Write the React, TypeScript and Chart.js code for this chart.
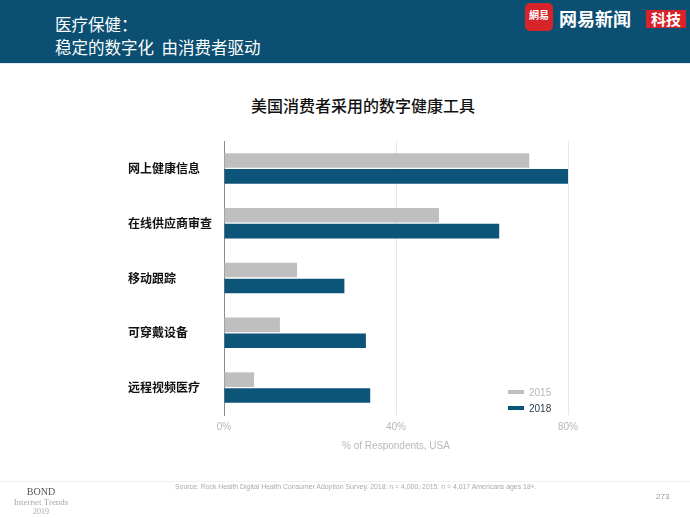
import React, { useEffect, useRef } from "react";
import { Chart, registerables } from "chart.js";

Chart.register(...registerables);

const categories = ["网上健康信息", "在线供应商审查", "移动跟踪", "可穿戴设备", "远程视频医疗"];
const series2015 = [71, 50, 17, 13, 7];
const series2018 = [80, 64, 28, 33, 34];
const seriesLabels = ["2015", "2018"];
const xTicks = [0, 40, 80];

const CJK = '"Noto Sans CJK SC", "Noto Sans", sans-serif';
const LATIN = 'Arial, "Liberation Sans", "DejaVu Sans", sans-serif';
const HEADER = "#0b5072";
const BAR2018 = "#0d5578";
const BAR2015 = "#bfbfbf";

export default function App() {
  const canvasRef = useRef<HTMLCanvasElement | null>(null);

  useEffect(() => {
    const ctx = canvasRef.current;
    if (!ctx) return;
    const chart = new Chart(ctx, {
      type: "bar",
      data: {
        labels: categories,
        datasets: [
          {
            label: seriesLabels[0],
            data: series2015,
            backgroundColor: BAR2015,
            categoryPercentage: 0.58,
            barPercentage: 0.92,
          },
          {
            label: seriesLabels[1],
            data: series2018,
            backgroundColor: BAR2018,
            categoryPercentage: 0.58,
            barPercentage: 0.92,
          },
        ],
      },
      options: {
        indexAxis: "y",
        responsive: false,
        animation: false,
        maintainAspectRatio: false,
        layout: { padding: { left: 128, right: 122, top: 141, bottom: 66 } },
        plugins: {
          legend: { display: false },
          tooltip: { enabled: false },
          title: { display: false },
        },
        scales: {
          x: {
            min: 0,
            max: 80,
            afterBuildTicks: (scale: any) => {
              scale.ticks = xTicks.map((v) => ({ value: v }));
            },
            ticks: {
              padding: 6,
              color: "#b8b8b8",
              font: { family: LATIN, size: 10 },
              callback: (v: any) => v + "%",
            },
            grid: { color: "#e6e6e6", drawTicks: false, lineWidth: 1 },
            border: { display: false },
            title: {
              display: true,
              text: "% of Respondents, USA",
              color: "#b8b8b8",
              font: { family: LATIN, size: 10 },
              padding: { top: 1, bottom: 0 },
            },
          },
          y: {
            afterFit: (scale: any) => {
              scale.width = 96;
            },
            ticks: {
              padding: 24,
              crossAlign: "far",
              color: "#111111",
              font: { family: CJK, size: 12, weight: "bold" },
            },
            grid: { display: false, drawTicks: false },
            border: { display: true, color: "#8a8a8a", width: 1 },
          },
        },
      },
    });
    return () => chart.destroy();
  }, []);

  return (
    <div
      style={{
        position: "absolute",
        left: 0,
        top: 0,
        width: 690,
        height: 518,
        overflow: "hidden",
        background: "#ffffff",
        fontFamily: CJK,
      }}
    >
      {/* header */}
      <div
        style={{
          position: "absolute",
          left: 0,
          top: 0,
          width: 690,
          height: 63,
          background: HEADER,
          borderBottom: "1px solid #dfeef3",
        }}
      />
      <div
        style={{
          position: "absolute",
          left: 55,
          top: 13,
          color: "#ffffff",
          fontSize: 16.5,
          lineHeight: "23px",
          whiteSpace: "nowrap",
        }}
      >
        <div>医疗保健：</div>
        <div>稳定的数字化&nbsp;&nbsp;由消费者驱动</div>
      </div>
      {/* logo */}
      <div
        style={{
          position: "absolute",
          left: 525,
          top: 3,
          width: 28,
          height: 28,
          borderRadius: 5,
          background: "#d7232a",
          color: "#ffffff",
          fontSize: 10,
          lineHeight: "24px",
          textAlign: "center",
          fontWeight: "bold",
        }}
      >
        網易
      </div>
      <div
        style={{
          position: "absolute",
          left: 559,
          top: 4,
          color: "#ffffff",
          fontSize: 18,
          fontWeight: "bold",
          lineHeight: "28px",
          whiteSpace: "nowrap",
        }}
      >
        网易新闻
      </div>
      <div
        style={{
          position: "absolute",
          left: 646,
          top: 10,
          width: 40,
          height: 18,
          background: "#d7232a",
          color: "#ffffff",
          fontSize: 15,
          fontWeight: "bold",
          lineHeight: "18px",
          textAlign: "center",
        }}
      >
        科技
      </div>
      {/* chart title */}
      <div
        style={{
          position: "absolute",
          left: 0,
          width: 726,
          top: 93,
          textAlign: "center",
          fontSize: 16,
          lineHeight: "24px",
          color: "#111111",
          fontWeight: 500,
        }}
      >
        美国消费者采用的数字健康工具
      </div>
      <canvas
        ref={canvasRef}
        width={690}
        height={518}
        style={{ position: "absolute", left: 0, top: 0, width: 690, height: 518 }}
      />
      {/* legend */}
      <div style={{ position: "absolute", left: 508, top: 384, fontFamily: LATIN, fontSize: 10 }}>
        <div style={{ display: "flex", alignItems: "center", height: 16 }}>
          <span style={{ display: "inline-block", width: 16, height: 4, background: BAR2015, marginRight: 5 }} />
          <span style={{ color: "#b8b8b8" }}>{seriesLabels[0]}</span>
        </div>
        <div style={{ display: "flex", alignItems: "center", height: 16 }}>
          <span style={{ display: "inline-block", width: 16, height: 4, background: BAR2018, marginRight: 5 }} />
          <span style={{ color: "#2a3a4a" }}>{seriesLabels[1]}</span>
        </div>
      </div>
      {/* footer */}
      <div style={{ position: "absolute", left: 0, top: 481, width: 690, height: 1, background: "#f0f0f0" }} />
      <div
        style={{
          position: "absolute",
          left: 0,
          width: 82,
          top: 487,
          textAlign: "center",
          fontFamily: '"Liberation Serif", "DejaVu Serif", serif',
          lineHeight: "10px",
        }}
      >
        <div style={{ fontSize: 10, color: "#555555" }}>BOND</div>
        <div style={{ fontSize: 9, color: "#aaaaaa" }}>Internet Trends</div>
        <div style={{ fontSize: 8, color: "#aaaaaa" }}>2019</div>
      </div>
      <div
        style={{
          position: "absolute",
          left: 175,
          top: 483,
          fontFamily: LATIN,
          fontSize: 6.9,
          color: "#aaaaaa",
          whiteSpace: "nowrap",
        }}
      >
        Source: Rock Health Digital Health Consumer Adoption Survey. 2018: n = 4,000; 2015: n = 4,017 Americans ages 18+.
      </div>
      <div
        style={{
          position: "absolute",
          left: 656,
          top: 492,
          fontFamily: LATIN,
          fontSize: 8,
          color: "#999999",
        }}
      >
        273
      </div>
    </div>
  );
}
